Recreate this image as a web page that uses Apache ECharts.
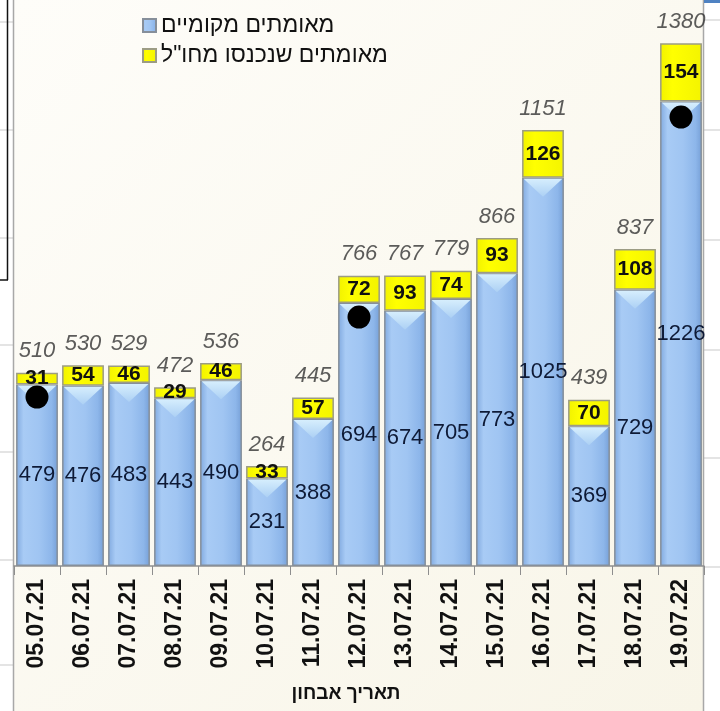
<!DOCTYPE html>
<html lang="he">
<head>
    <meta charset="UTF-8">
    <title>מאומתים לפי תאריך אבחון</title>
    <script src="https://cdn.jsdelivr.net/npm/echarts@6.0.0/dist/echarts.min.js"></script>
    <style>
        html, body { margin: 0; padding: 0; background: #ffffff; }
        #main { width: 720px; height: 711px; }
    </style>
</head>
<body>
    <div id="main"></div>
    <script>
        // data
        var dates = ['05.07.21', '06.07.21', '07.07.21', '08.07.21', '09.07.21', '10.07.21', '11.07.21',
            '12.07.21', '13.07.21', '14.07.21', '15.07.21', '16.07.21', '17.07.21', '18.07.21', '19.07.22'];
        var localCases = [479, 476, 483, 443, 490, 231, 388, 694, 674, 705, 773, 1025, 369, 729, 1226];
        var abroadCases = [31, 54, 46, 29, 46, 33, 57, 72, 93, 74, 93, 126, 70, 108, 154];
        var totals = [510, 530, 529, 472, 536, 264, 445, 766, 767, 779, 866, 1151, 439, 837, 1380];
        // black markers drawn over three bars
        var dots = [446, '-', '-', '-', '-', '-', '-', 657, '-', '-', '-', '-', '-', '-', 1185];

        var localName = 'מאומתים מקומיים';
        var abroadName = 'מאומתים שנכנסו מחו"ל';

        var chart = echarts.init(document.getElementById('main'));

        var blueFill = new echarts.graphic.LinearGradient(0, 0, 1, 0, [
            { offset: 0, color: '#80a9df' },
            { offset: 0.18, color: '#a8cbf5' },
            { offset: 0.55, color: '#a0c5f2' },
            { offset: 0.85, color: '#8db6ea' },
            { offset: 1, color: '#769fd6' }
        ]);
        var yellowFill = new echarts.graphic.LinearGradient(0, 0, 1, 0, [
            { offset: 0, color: '#f2f200' },
            { offset: 0.3, color: '#ffff00' },
            { offset: 1, color: '#f4f400' }
        ]);

        // decorative margins left and right of the panel
        var sideLines = [];
        [22, 130, 238, 345, 452, 560, 665].forEach(function (y) {
            sideLines.push({ type: 'line', z: -5, shape: { x1: 0, y1: y, x2: 13, y2: y }, style: { stroke: '#c9c9c9', lineWidth: 1 } });
        });
        [20, 130, 240, 350, 458, 567].forEach(function (y) {
            sideLines.push({ type: 'line', z: -5, shape: { x1: 704, y1: y, x2: 720, y2: y }, style: { stroke: '#c9c9c9', lineWidth: 1 } });
        });

        option = {
            backgroundColor: '#ffffff',
            animation: false,
            graphic: [
                { type: 'rect', z: -10, shape: { x: 13, y: 0, width: 690, height: 711 },
                  style: { fill: new echarts.graphic.LinearGradient(0, 0, 1, 1, [
                      { offset: 0, color: '#fefdf9' },
                      { offset: 1, color: '#f8f5e8' }
                  ]) } },
                { type: 'line', z: -4, shape: { x1: 13.5, y1: 0, x2: 13.5, y2: 711 }, style: { stroke: '#a8a8a8', lineWidth: 1.5 } },
                { type: 'line', z: -4, shape: { x1: 703.5, y1: 0, x2: 703.5, y2: 711 }, style: { stroke: '#a8a8a8', lineWidth: 1.5 } },
                { type: 'line', z: -4, shape: { x1: 7.5, y1: 0, x2: 7.5, y2: 280 }, style: { stroke: '#111', lineWidth: 1.5 } },
                { type: 'line', z: -4, shape: { x1: 0, y1: 280, x2: 8, y2: 280 }, style: { stroke: '#111', lineWidth: 1.5 } },
                { type: 'rect', z: -4, shape: { x: 704, y: 0, width: 16, height: 3 }, style: { fill: '#4f82c2' } }
            ].concat(sideLines),
            legend: {
                data: [localName, abroadName],
                orient: 'vertical',
                left: 137,
                top: 9,
                icon: 'rect',
                itemWidth: 13,
                itemHeight: 13,
                itemGap: 7,
                textStyle: { fontSize: 23, color: '#111', fontFamily: 'Liberation Sans' }
            },
            grid: { left: 14, right: 16, top: 28, bottom: 145 },
            xAxis: {
                type: 'category',
                data: dates,
                name: 'תאריך אבחון',
                nameLocation: 'middle',
                nameGap: 118,
                nameTextStyle: { fontSize: 19, fontWeight: 'bold', color: '#111', fontFamily: 'Liberation Sans', padding: [0, 26, 0, 0] },
                axisLine: { lineStyle: { color: '#8e8e8e', width: 1.5 } },
                axisTick: { show: true, length: 9, lineStyle: { color: '#8e8e8e' } },
                axisLabel: { rotate: 90, margin: 13, fontSize: 23, fontWeight: 'bold', color: '#111', fontFamily: 'Liberation Sans' }
            },
            yAxis: {
                type: 'value',
                min: 0,
                max: 1420,
                show: false,
                splitLine: { show: false }
            },
            series: [
                {
                    name: localName,
                    type: 'bar',
                    stack: 'cases',
                    barCategoryGap: '9%',
                    data: localCases,
                    itemStyle: { color: blueFill, borderColor: '#868f9a', borderWidth: 1.5 },
                    label: { show: true, position: 'inside', fontSize: 22, color: '#0e1a36', fontFamily: 'Liberation Sans' }
                },
                {
                    name: abroadName,
                    type: 'bar',
                    stack: 'cases',
                    data: abroadCases,
                    itemStyle: { color: yellowFill, borderColor: '#9c9c84', borderWidth: 1.5 },
                    label: { show: true, position: 'inside', fontSize: 21, fontWeight: 'bold', color: '#111', fontFamily: 'Liberation Sans' }
                },
                {
                    // light bevel at the top of every blue bar
                    type: 'custom',
                    z: 3,
                    silent: true,
                    data: localCases.map(function (v, i) { return [i, v]; }),
                    renderItem: function (params, api) {
                        var p = api.coord([api.value(0), api.value(1)]);
                        var w = api.size([1, 0])[0] * 0.91 - 3;
                        return {
                            type: 'polygon',
                            shape: { points: [[p[0] - w / 2, p[1] + 1], [p[0] + w / 2, p[1] + 1], [p[0], p[1] + 19]] },
                            style: { fill: new echarts.graphic.LinearGradient(0, 0, 0, 1, [
                                { offset: 0, color: '#d6eefd' },
                                { offset: 1, color: '#acd0f4' }
                            ]) }
                        };
                    }
                },
                {
                    // totals above the stacks
                    type: 'scatter',
                    silent: true,
                    data: totals,
                    symbolSize: 1,
                    itemStyle: { color: 'rgba(0,0,0,0)' },
                    label: { show: true, position: 'top', distance: 10, fontSize: 22, fontStyle: 'italic', color: '#333', fontFamily: 'Liberation Sans' }
                },
                {
                    type: 'scatter',
                    silent: true,
                    z: 6,
                    data: dots,
                    symbolSize: 23,
                    itemStyle: { color: '#000', opacity: 1 }
                }
            ]
        };
        chart.setOption(option);
    </script>
</body>
</html>
